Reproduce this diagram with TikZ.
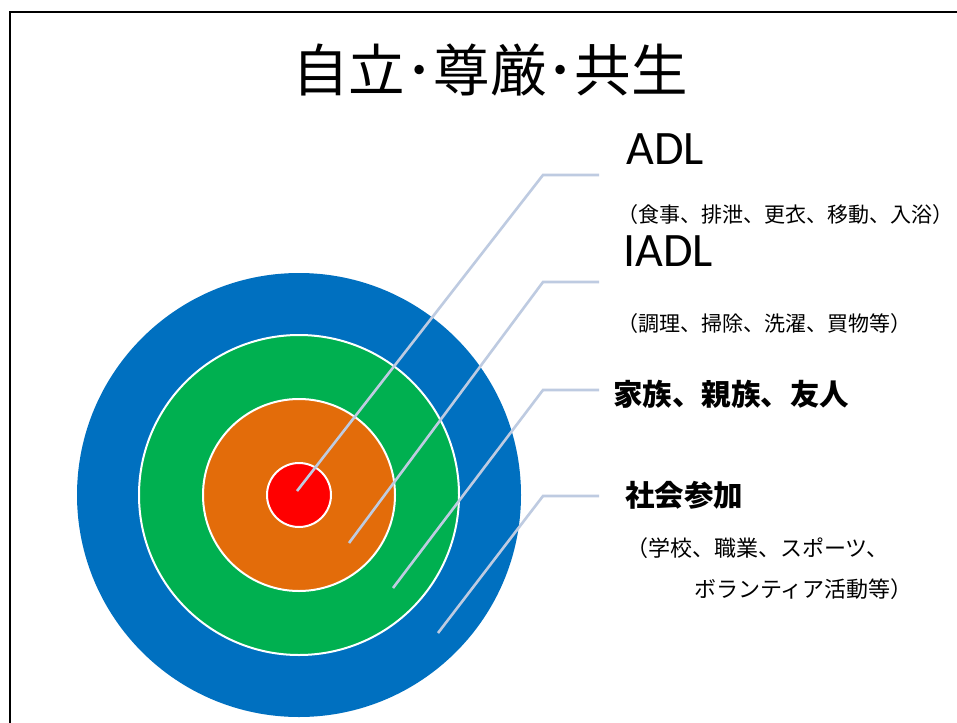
\documentclass[tikz,border=0pt]{standalone}
\usepackage{fontspec}
\newfontfamily\jp{Noto Sans CJK JP}
\newfontfamily\lat{Carlito}
\definecolor{ringblue}{RGB}{0,112,192}
\definecolor{ringgreen}{RGB}{0,176,80}
\definecolor{ringorange}{RGB}{227,108,10}
\definecolor{ringred}{RGB}{255,0,0}
\definecolor{leader}{RGB}{190,203,225}
\begin{document}
\begin{tikzpicture}[x=1pt,y=-1pt,
  ring/.style={circle,inner sep=0pt,draw=white,line width=2pt},
  leadline/.style={draw=leader,line width=2.6pt},
  lbl/.style={anchor=west,inner sep=0pt,text=black},
  big/.style={lbl,font=\lat\fontsize{48}{52}\selectfont},
  sub/.style={lbl,font=\jp\fontsize{21}{24}\selectfont},
  subb/.style={lbl,font=\jp\fontsize{22}{25}\selectfont},
  head/.style={lbl,font=\jp\bfseries\fontsize{29.5}{32}\selectfont}]
\useasboundingbox (0,0) rectangle (957,722);
\fill[white] (0,0) rectangle (957,722);
% frame
\draw[line width=2pt,black] (10,740) -- (10,12) -- (970,12);
% title
\node[inner sep=0pt,font=\jp\fontsize{56.5}{60}\selectfont] (title) at (490,70) {自立･尊厳･共生};
% rings
\node[circle,inner sep=0pt,fill=ringblue,minimum size=444pt] (blue) at (299,495) {};
\node[ring,fill=ringgreen,minimum size=320pt] (green) at (299,495) {};
\node[ring,fill=ringorange,minimum size=192pt] (orange) at (299,495) {};
\node[ring,fill=ringred,minimum size=64pt] (red) at (299,495) {};
% leader points
\coordinate (p1) at (297,491);
\coordinate (k1) at (543,175);
\coordinate (e1) at (599,175);
\coordinate (p2) at (349,543);
\coordinate (k2) at (543,282);
\coordinate (e2) at (599,282);
\coordinate (p3) at (393,588);
\coordinate (k3) at (543,390);
\coordinate (e3) at (599,390);
\coordinate (p4) at (438,633);
\coordinate (k4) at (543,496);
\coordinate (e4) at (599,496);
\draw[leadline] (p1) -- (k1) -- (e1);
\draw[leadline] (p2) -- (k2) -- (e2);
\draw[leadline] (p3) -- (k3) -- (e3);
\draw[leadline] (p4) -- (k4) -- (e4);
% labels
\node[big] (adl) at (626,149) {ADL};
\node[sub] (adlsub) at (617,215) {（食事、排泄、更衣、移動、入浴）};
\node[big] (iadl) at (623,251) {IADL};
\node[sub] (iadlsub) at (617,324) {（調理、掃除、洗濯、買物等）};
\node[head] (family) at (613,394) {家族、親族、友人};
\node[head] (social) at (625,495) {社会参加};
\node[subb] (soc1) at (626,548) {（学校、職業、スポーツ、};
\node[subb] (soc2) at (694,589) {ボランティア活動等）};
\end{tikzpicture}
\end{document}
